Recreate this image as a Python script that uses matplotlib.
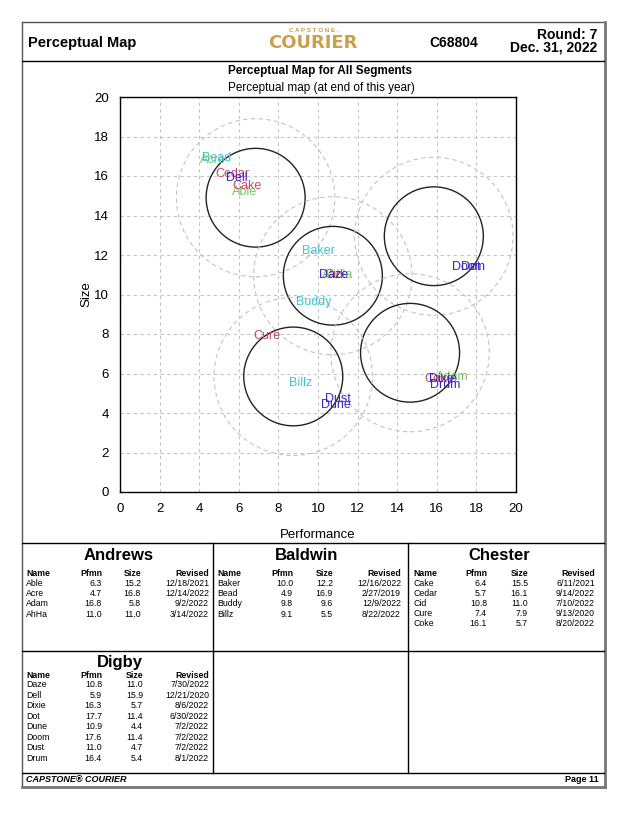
import matplotlib
matplotlib.use("Agg")
import matplotlib.pyplot as plt
from matplotlib.lines import Line2D
from matplotlib.patches import Circle

plt.rcParams['font.family'] = ['Liberation Sans', 'DejaVu Sans']

# product data per team: name, pfmn, size, revised
andrews_names = ["Able", "Acre", "Adam", "AhHa"]
andrews_pfmn = [6.3, 4.7, 16.8, 11.0]
andrews_size = [15.2, 16.8, 5.8, 11.0]
andrews_rev = ["12/18/2021", "12/14/2022", "9/2/2022", "3/14/2022"]

baldwin_names = ["Baker", "Bead", "Buddy", "Billz"]
baldwin_pfmn = [10.0, 4.9, 9.8, 9.1]
baldwin_size = [12.2, 16.9, 9.6, 5.5]
baldwin_rev = ["12/16/2022", "2/27/2019", "12/9/2022", "8/22/2022"]

chester_names = ["Cake", "Cedar", "Cid", "Cure", "Coke"]
chester_pfmn = [6.4, 5.7, 10.8, 7.4, 16.1]
chester_size = [15.5, 16.1, 11.0, 7.9, 5.7]
chester_rev = ["6/11/2021", "9/14/2022", "7/10/2022", "9/13/2020", "8/20/2022"]

digby_names = ["Daze", "Dell", "Dixie", "Dot", "Dune", "Doom", "Dust", "Drum"]
digby_pfmn = [10.8, 5.9, 16.3, 17.7, 10.9, 17.6, 11.0, 16.4]
digby_size = [11.0, 15.9, 5.7, 11.4, 4.4, 11.4, 4.7, 5.4]
digby_rev = ["7/30/2022", "12/21/2020", "8/6/2022", "6/30/2022", "7/2/2022",
             "7/2/2022", "7/2/2022", "8/1/2022"]

# segment circle centres
seg_pfmn = [6.85, 10.75, 15.85, 14.65, 8.75]
seg_size = [14.9, 10.95, 12.95, 7.05, 5.85]
fine_cut = 2.5
rough_cut = 4.0

team_colors = {"Andrews": "#6fcc5a", "Baldwin": "#3cc6d0",
               "Chester": "#c8426f", "Digby": "#3a26c8"}

W, H = 638, 826
fig = plt.figure(figsize=(W / 100, H / 100), dpi=100)


def ftext(x, y, s, **kw):
    kw.setdefault("va", "center")
    fig.text(x / W, 1 - y / H, s, **kw)


def fline(x0, y0, x1, y1, color="black", lw=1.0):
    fig.add_artist(Line2D([x0 / W, x1 / W], [1 - y0 / H, 1 - y1 / H],
                          transform=fig.transFigure, color=color, lw=lw))


# frame
L, R, T, B = 22, 604, 22, 786
fline(L, T, R, T, color="#555555")
fline(L, T, L, B, color="#555555")
fline(R + 1, T, R + 1, B + 1, color="#777777", lw=2)
fline(L, B + 1, R + 1, B + 1, color="#777777", lw=2)
fline(L, 61, R, 61)
fline(L, 543, R, 543)
fline(L, 651, R, 651)
fline(L, 773, R, 773)
fline(213, 543, 213, 773)
fline(408, 543, 408, 773)

# header
ftext(28, 43, "Perceptual Map", fontsize=10.5, fontweight="bold")
ftext(314, 31, "C A P S T O N E .", fontsize=4.5, fontweight="bold",
      color="#c29a45", ha="center")
ftext(313, 43, "COURIER", fontsize=13, fontweight="bold", color="#c9a04c",
      ha="center", family=["DejaVu Sans"])
ftext(454, 43, "C68804", fontsize=10, fontweight="bold", ha="center")
ftext(597, 35, "Round: 7", fontsize=10, fontweight="bold", ha="right")
ftext(597, 48, "Dec. 31, 2022", fontsize=10, fontweight="bold", ha="right")

# chart
ax = fig.add_axes([120 / W, 1 - 492 / H, 396 / W, 395 / H])
ax.set_xlim(0, 20)
ax.set_ylim(0, 20)
ax.set_xticks(range(0, 21, 2))
ax.set_yticks(range(0, 21, 2))
ax.tick_params(length=0, labelsize=9.5, pad=8)
ax.grid(True, color="#c4c4c4", linestyle=(0, (3, 3)), lw=0.8)
ax.set_axisbelow(True)
for sp in ax.spines.values():
    sp.set_linewidth(1.0)

for cx, cy in zip(seg_pfmn, seg_size):
    ax.add_patch(Circle((cx, cy), rough_cut, fill=False, ec="#c4c4c4",
                        lw=0.8, ls=(0, (4, 3))))
    ax.add_patch(Circle((cx, cy), fine_cut, fill=False, ec="#222222", lw=1.0))

teams = [("Andrews", andrews_names, andrews_pfmn, andrews_size),
         ("Baldwin", baldwin_names, baldwin_pfmn, baldwin_size),
         ("Chester", chester_names, chester_pfmn, chester_size),
         ("Digby", digby_names, digby_pfmn, digby_size)]
for team, names, pf, sz in teams:
    for n, x, y in zip(names, pf, sz):
        ax.text(x, y, n, color=team_colors[team], fontsize=9,
                ha="center", va="center")

ax.set_xlabel("Performance", fontsize=9.5, labelpad=10)
ax.set_ylabel("Size", fontsize=9.5, labelpad=1)
ftext(320, 71, "Perceptual Map for All Segments", fontsize=8.5,
      fontweight="bold", ha="center")
ftext(321, 88, "Perceptual map (at end of this year)", fontsize=8.5, ha="center")


# tables
def table(title, tx, ty, x_name, x_pf, x_sz, x_rev, hy, y0, dy,
          names, pf, sz, rev):
    ftext(tx, ty, title, fontsize=12, fontweight="bold", ha="center")
    fs = 6.3
    ftext(x_name, hy, "Name", fontsize=fs, fontweight="bold")
    ftext(x_pf, hy, "Pfmn", fontsize=fs, fontweight="bold", ha="right")
    ftext(x_sz, hy, "Size", fontsize=fs, fontweight="bold", ha="right")
    ftext(x_rev, hy, "Revised", fontsize=fs, fontweight="bold", ha="right")
    for i, (n, p, s, r) in enumerate(zip(names, pf, sz, rev)):
        y = y0 + i * dy
        ftext(x_name, y, n, fontsize=fs)
        ftext(x_pf, y, f"{p:.1f}", fontsize=fs, ha="right")
        ftext(x_sz, y, f"{s:.1f}", fontsize=fs, ha="right")
        ftext(x_rev, y, r, fontsize=fs, ha="right")


table("Andrews", 119, 556, 26, 102, 141, 209, 573, 583.3, 10.3,
      andrews_names, andrews_pfmn, andrews_size, andrews_rev)
table("Baldwin", 307, 556, 217, 293, 333, 401, 573, 583.3, 10.3,
      baldwin_names, baldwin_pfmn, baldwin_size, baldwin_rev)
table("Chester", 499, 556, 413, 487, 528, 595, 573, 583.0, 10.2,
      chester_names, chester_pfmn, chester_size, chester_rev)
table("Digby", 120, 662, 26, 102, 143, 209, 675, 684.5, 10.55,
      digby_names, digby_pfmn, digby_size, digby_rev)

# footer
ftext(26, 779, "CAPSTONE\u00ae COURIER", fontsize=6.5, fontweight="bold", style="italic")
ftext(599, 779, "Page 11", fontsize=6.5, fontweight="bold", ha="right")

fig.savefig("out.png", dpi=100, facecolor="white")
